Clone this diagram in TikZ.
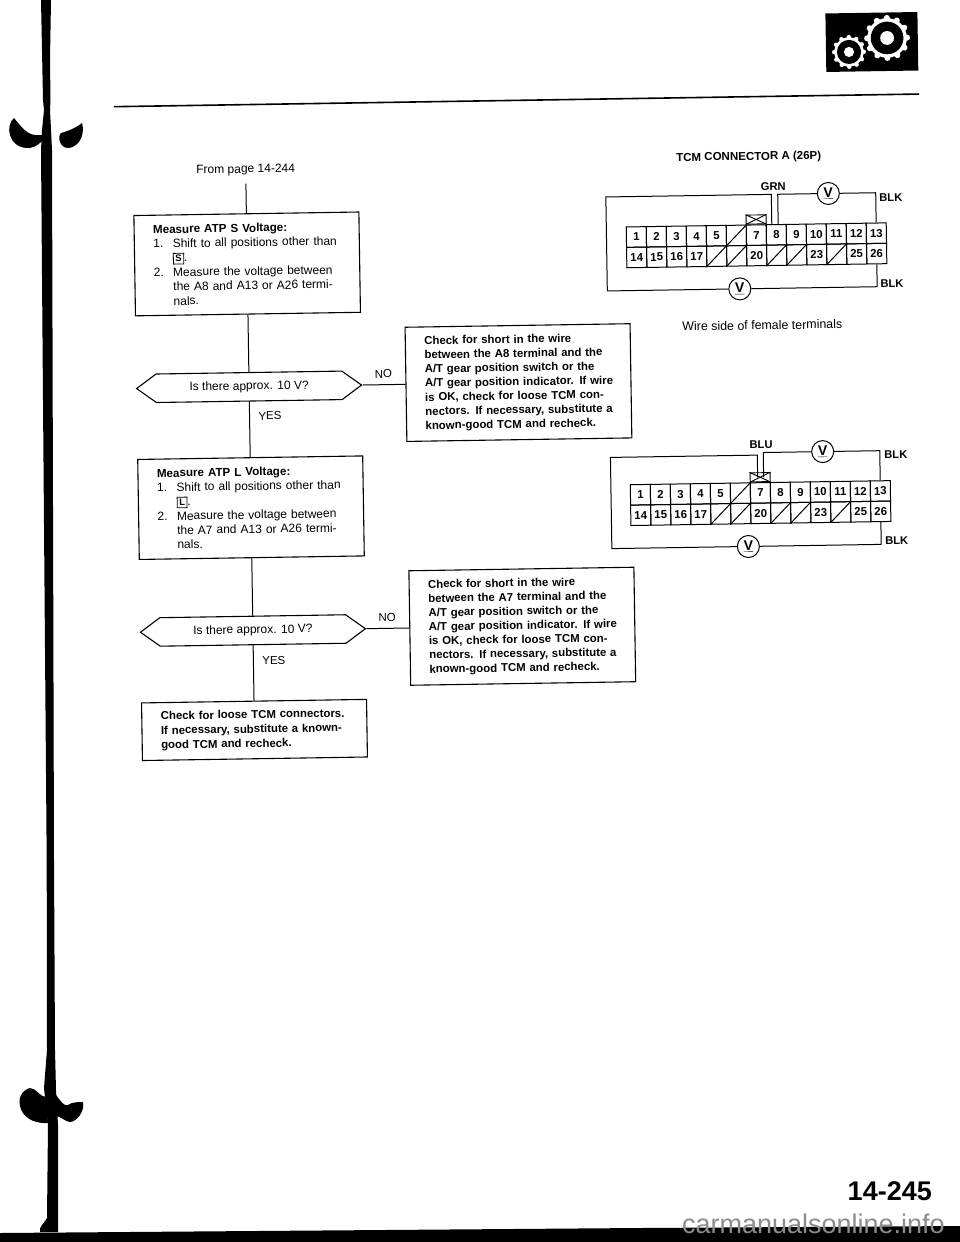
\documentclass[tikz,border=0pt]{standalone}
\usepackage{fontspec}
\setmainfont{Liberation Sans}
\usepackage{tikz}
\usetikzlibrary{shapes.symbols}
\newcommand{\bodyfont}{\fontsize{12}{14.4}\selectfont}
\newcommand{\boldfont}{\fontsize{11.4}{14.15}\selectfont\bfseries}
\newcommand{\stepnum}[1]{\makebox[19.4pt][l]{#1}}
\newcommand{\fillline}[2][\linewidth]{\makebox[#1][s]{#2}}
\newcommand{\posbox}[1]{{\fboxsep=1.6pt\fboxrule=.8pt\fbox{\fontsize{9.5}{9.5}\selectfont\bfseries #1}}}
\tikzstyle{wire} = [line width=1pt]
\tikzstyle{box} = [
    rectangle, draw, line width=1.1pt,
    minimum width=225pt,
    text width=187pt,
    inner sep=0pt,
    align=left,
]
\tikzstyle{stepbox} = [box, font=\bodyfont]
\tikzstyle{checkbox} = [box, font=\boldfont]
\tikzstyle{question} = [
    signal, signal to=west and east, signal pointer angle=72,
    draw, line width=1.1pt,
    minimum width=225pt,
    minimum height=28.5pt,
    inner sep=0pt,
    font=\bodyfont,
]
\tikzstyle{plain} = [font=\fontsize{11.5}{13}\selectfont, inner sep=0pt]
\tikzstyle{wirelabel} = [font=\fontsize{11.2}{13}\selectfont\bfseries, inner sep=0pt]
\tikzstyle{cell} = [
    rectangle, draw, line width=1pt,
    minimum width=20pt,
    minimum height=20.4pt,
    inner sep=0pt,
    font=\fontsize{11.4}{12}\selectfont\bfseries,
]
\tikzstyle{crossbox} = [
    rectangle, draw, line width=.9pt,
    minimum width=20pt,
    minimum height=9pt,
    inner sep=0pt,
    anchor=south,
]
\tikzstyle{meter} = [
    circle, draw, line width=1pt, fill=white,
    minimum size=22pt,
    inner sep=0pt,
    font=\fontsize{14}{14}\selectfont\bfseries,
]

\begin{document}
\begin{tikzpicture}[x=1pt,y=-1pt]
    \useasboundingbox (0,0) rectangle (960,1242);

    % binding edge
    \fill (41,0) -- (51,0) -- (50,60) -- (50.5,100) -- (50,110) -- (52,150) -- (52.7,400)
        -- (54,860) -- (55,1050) -- (56,1090) -- (58,1125) -- (58,1232)
        -- (40,1232) .. controls (39,1226) and (44,1224) .. (47,1218) -- (48,1125)
        -- (44,1088) -- (47,1050) -- (46.7,860) -- (43,400) -- (41,150) -- (42,130)
        -- (44,110) -- (43,100) -- cycle;
    \fill (14,118) .. controls (5,125) and (8,148) .. (28,148)
        .. controls (36,148) and (42,142) .. (46,135) -- (36,135)
        .. controls (28,135) and (22,128) .. (14,118) -- cycle;
    \fill (82,123) .. controls (76,128) and (68,131) .. (61,133)
        .. controls (57,137) and (60,148) .. (68,148)
        .. controls (76,148) and (86,138) .. (82,123) -- cycle;
    \fill (46,1097) .. controls (40,1097) and (36,1088) .. (30,1088)
        .. controls (22,1090) and (18,1098) .. (20,1106)
        .. controls (22,1116) and (32,1124) .. (48,1123) -- cycle;
    \fill (56,1095) .. controls (60,1100) and (64,1107) .. (68,1105)
        .. controls (72,1102) and (78,1102) .. (83,1102)
        .. controls (85,1112) and (76,1122) .. (70,1122)
        .. controls (66,1122) and (60,1116) .. (56,1116) -- cycle;
    \fill (0,1233) -- (640,1228) -- (960,1226) -- (960,1242) -- (0,1242) -- cycle;
    \node (watermark) [anchor=base east, inner sep=0pt, text=black!45, font=\fontsize{27}{27}\selectfont] at (945,1233) {carmanualsonline.info};

    \begin{scope}[rotate around={0.9:(480,621)}, transform shape]
    % header
    \node (gearbox) [rectangle, fill=black, minimum width=92pt, minimum height=58.5pt, inner sep=0pt] at (880.9,48.2) {};
    \foreach \gx/\gy/\gr/\tooth in {896.2/44.4/23/6, 857.9/57.8/17/4.5} {
        \foreach \a in {0,30,...,330} {
            \draw [white, line width=\tooth pt, line cap=round] (\gx,\gy) ++(\a:\gr*0.8) -- ++(\a:\gr*0.2-\tooth*0.5);
        }
        \fill [white] (\gx,\gy) circle (\gr*0.86);
        \fill [black] (\gx,\gy) circle (\gr*0.71);
        \fill [white] (\gx,\gy) circle (\gr*0.3);
    }
    \coordinate (ruleL) at (122,101);
    \coordinate (ruleR) at (927.3,101);
    \draw [line width=1.6pt] (ruleL) -- (ruleR);

    % flow chart
    \node (from) [font=\bodyfont, inner sep=0pt] at (252.8,166.3) {From page 14-244};
    \node (measS) at (252.8,260.3) [stepbox, minimum height=100.3pt] {
        {\fontsize{11.6}{14.4}\selectfont\bfseries Measure ATP S Voltage:}\\
        \stepnum{1.}\fillline[167.6pt]{Shift to all positions other than}\\
        \stepnum{}\posbox{S}.\\
        \stepnum{2.}\fillline[167.6pt]{Measure the voltage between}\\
        \stepnum{}\fillline[167.6pt]{the A8 and A13 or A26 termi-}\\
        \stepnum{}nals.};
    \node (askS) at (252.8,383.2) [question] {Is there approx. 10 V?};
    \node (measL) at (252.8,504.1) [stepbox, minimum height=100pt] {
        {\fontsize{11.6}{14.4}\selectfont\bfseries Measure ATP L Voltage:}\\
        \stepnum{1.}\fillline[167.6pt]{Shift to all positions other than}\\
        \stepnum{}\posbox{L}.\\
        \stepnum{2.}\fillline[167.6pt]{Measure the voltage between}\\
        \stepnum{}\fillline[167.6pt]{the A7 and A13 or A26 termi-}\\
        \stepnum{}nals.};
    \node (askL) at (252.8,626.9) [question] {Is there approx. 10 V?};
    \node (loose) at (252.8,726.4) [checkbox, minimum height=57.6pt, font=\fontsize{11.4}{14.5}\selectfont\bfseries] {
        \fillline{Check for loose TCM connectors.}\\
        \fillline{If necessary, substitute a known-}\\
        good TCM and recheck.};
    \node (shortS) at (522.2,383.2) [checkbox, minimum height=114.2pt] {
        \fillline{Check for short in the wire}\\
        \fillline{between the A8 terminal and the}\\
        \fillline{A/T gear position switch or the}\\
        \fillline{A/T gear position indicator. If wire}\\
        \fillline{is OK, check for loose TCM con-}\\
        \fillline{nectors. If necessary, substitute a}\\
        known-good TCM and recheck.};
    \node (shortL) at (522.2,626.9) [checkbox, minimum height=114.5pt] {
        \fillline{Check for short in the wire}\\
        \fillline{between the A7 terminal and the}\\
        \fillline{A/T gear position switch or the}\\
        \fillline{A/T gear position indicator. If wire}\\
        \fillline{is OK, check for loose TCM con-}\\
        \fillline{nectors. If necessary, substitute a}\\
        known-good TCM and recheck.};

    \node (noS) at (387.2,372.5) [plain] {NO};
    \node (yesS) at (273.2,412.7) [plain] {YES};
    \node (noL) at (387.2,615.9) [plain] {NO};
    \node (yesL) at (273.2,657) [plain] {YES};

    \draw [wire] ([yshift=-8pt]from.south) -- (measS.north);
    \draw [wire] (measS.south) -- (askS.north);
    \draw [wire] (askS.south) -- (measL.north);
    \draw [wire] (measL.south) -- (askL.north);
    \draw [wire] (askL.south) -- (loose.north);
    \draw [wire] (askS.east) -- (shortS.west);
    \draw [wire] (askL.east) -- (shortL.west);

    % connectors
    \node (title) [font=\fontsize{11.5}{13}\selectfont\bfseries, inner sep=0pt] at (756,161.5) {TCM CONNECTOR A (26P)};
    \node (wireside) [font=\fontsize{12.4}{14}\selectfont, inner sep=0pt] at (766.9,329.7) {Wire side of female terminals};
    \foreach \conn/\dy in {grn/0, blu/257.8} {
        \foreach \num [count=\x] in {1,2,3,4,5,{},7,8,9,10,11,12,13} {
            \node (\conn-up\x) at ({622.4+20*\x},{239.5+\dy}) [cell] {\num};
        }
        \foreach \num [count=\x] in {14,15,16,17,{},{},20,{},{},23,{},25,26} {
            \node (\conn-lo\x) at ({622.4+20*\x},{259.9+\dy}) [cell] {\num};
        }
        \draw [wire] (\conn-up6.south west) -- (\conn-up6.north east);
        \foreach \x in {5,6,8,9,11} {
            \draw [wire] (\conn-lo\x.south west) -- (\conn-lo\x.north east);
        }
        \node (\conn-x) at (\conn-up7.north) [crossbox] {};
        \draw [line width=.9pt] (\conn-x.south west) -- (\conn-x.north east);
        \draw [line width=.9pt] (\conn-x.north west) -- (\conn-x.south east);
    }

    % GRN side
    \node (grn-vt) at (835,199) [meter] {\underline{V}};
    \node (grn-vb) at (745,293) [meter] {\underline{V}};
    \node (grn) at (780.1,191) [wirelabel] {GRN};
    \node (grn-blkt) at (885.7,204.4) [wirelabel, anchor=west] {BLK};
    \node (grn-blkb) at (885.5,290.4) [wirelabel, anchor=west] {BLK};
    \coordinate (grn-a) at (778,199);
    \coordinate (grn-b) at (612.5,199);
    \coordinate (grn-c) at (612.5,293);
    \coordinate (grn-d) at (882.4,293);
    \coordinate (grn-e) at (784.4,199);
    \coordinate (grn-f) at (882.4,199);
    \draw [wire] ([xshift=-4.4pt]grn-up8.north) -- (grn-a) -- (grn-b) -- (grn-c) -- (grn-vb);
    \draw [wire] (grn-vb) -- (grn-d) -- (grn-lo13.south);
    \draw [wire] ([xshift=2pt]grn-up8.north) -- (grn-e) -- (grn-vt);
    \draw [wire] (grn-vt) -- (grn-f) -- (grn-up13.north);

    % BLU side
    \node (blu-vt) at (825.3,457) [meter] {\underline{V}};
    \node (blu-vb) at (749.5,550.7) [meter] {\underline{V}};
    \node (blu) at (763.8,449.4) [wirelabel] {BLU};
    \node (blu-blkt) at (886.7,461.3) [wirelabel, anchor=west] {BLK};
    \node (blu-blkb) at (886.2,547) [wirelabel, anchor=west] {BLK};
    \coordinate (blu-a) at (759.9,459.5);
    \coordinate (blu-b) at (613,459.5);
    \coordinate (blu-c) at (613,550.7);
    \coordinate (blu-d) at (882.4,550.7);
    \coordinate (blu-e) at (765.9,457);
    \coordinate (blu-f) at (882.4,457);
    \draw [wire] ([xshift=-2.5pt]blu-x.center) -- (blu-a) -- (blu-b) -- (blu-c) -- (blu-vb);
    \draw [wire] (blu-vb) -- (blu-d) -- (blu-lo13.south);
    \draw [wire] ([xshift=3.5pt]blu-x.center) -- (blu-e) -- (blu-vt);
    \draw [wire] (blu-vt) -- (blu-f) -- (blu-up13.north);
    \end{scope}

    % page number
    \node (page) [anchor=base east, inner sep=0pt, font=\fontsize{27}{27}\selectfont\bfseries] at (932,1200) {14-245};
\end{tikzpicture}
\end{document}
